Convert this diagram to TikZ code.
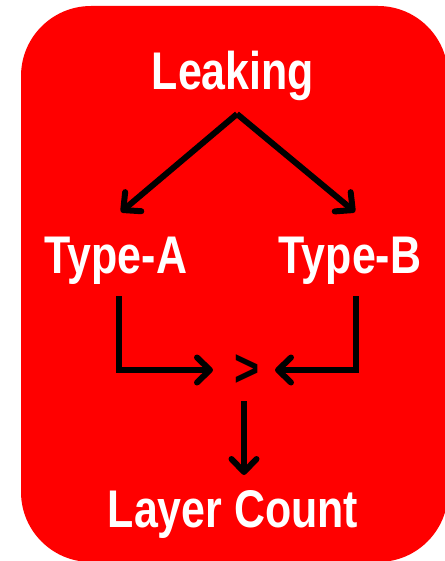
\documentclass[tikz,border=0pt]{standalone}
\usepackage{fontspec}
\newfontfamily\narfont[FakeStretch=0.81]{Liberation Sans}
\usetikzlibrary{arrows.meta}
\definecolor{boxred}{HTML}{FF0000}
\tikzset{
  lbl/.style={anchor=base, inner sep=0pt, text=white, font=\narfont\bfseries\fontsize{53}{60}\selectfont},
  arr/.style={line width=6pt, draw=black, -{Straight Barb[length=13pt,width=25pt,line cap=round,line join=round]}},
}
\begin{document}
\begin{tikzpicture}[x=1pt,y=-1pt]
\useasboundingbox (0,0) rectangle (444,561);
\fill[boxred, rounded corners=70pt] (21,6) rectangle (448,562);
\node[lbl] (leak) at (233,90) {Leaking};
\node[lbl] (typeA) at (116,273) {Type-A};
\node[lbl] (typeB) at (350,273) {Type-B};
\node[lbl, text=black] (gt) at (247,386) {>};
\node[lbl] (layer) at (233,527) {Layer Count};
\coordinate (apex) at (237,114);
\coordinate (tA) at (121,212);
\coordinate (tB) at (355,212);
\coordinate (a1) at (119,296);
\coordinate (b1) at (356,296);
\coordinate (aT) at (213,370);
\coordinate (bT) at (275,370);
\coordinate (d0) at (244,401);
\coordinate (dT) at (244,475);
\draw[arr] (apex) -- (tA);
\draw[arr] (apex) -- (tB);
\draw[arr] (a1) |- (aT);
\draw[arr] (b1) |- (bT);
\draw[arr] (d0) -- (dT);
\end{tikzpicture}
\end{document}
